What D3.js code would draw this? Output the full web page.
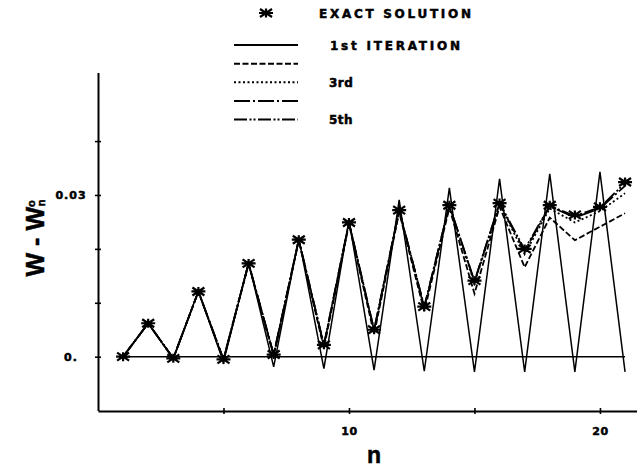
<!DOCTYPE html>
<html>
<head>
<meta charset="utf-8">
<style>
  body { margin: 0; background: #fff; }
  svg text { font-family: "DejaVu Sans", sans-serif; font-weight: bold; fill: #000; stroke: #000; stroke-width: 0.5px; }
</style>
</head>
<body>
<svg id="chart"></svg>
<script src="https://cdn.jsdelivr.net/npm/d3@7/dist/d3.min.js"></script>
<script>
// values, n = 1 .. 21
var nValues = [1, 2, 3, 4, 5, 6, 7, 8, 9, 10, 11, 12, 13, 14, 15, 16, 17, 18, 19, 20, 21];
var exact = [0, 0.0062, -0.0003, 0.0121, -0.0005, 0.0173, 0.0004, 0.0217, 0.0022, 0.0249, 0.0050,
             0.0272, 0.0093, 0.0281, 0.0141, 0.0285, 0.0200, 0.0281, 0.0263, 0.0278, 0.0324];
var iter1 = [0, 0.0062, -0.0004, 0.0122, -0.0010, 0.0175, -0.0019, 0.0220, -0.0022, 0.0254, -0.0025,
             0.0291, -0.0027, 0.0313, -0.0028, 0.0330, -0.0028, 0.0339, -0.0028, 0.0343, -0.0028];
var iter2 = [0, 0.0062, -0.0003, 0.0121, -0.0006, 0.0172, 0.0001, 0.0215, 0.0016, 0.0246, 0.0042,
             0.0268, 0.0084, 0.0276, 0.0117, 0.0278, 0.0166, 0.0258, 0.0216, 0.0241, 0.0266];
var iter3 = [0, 0.0062, -0.0003, 0.0121, -0.0005, 0.0173, 0.0003, 0.0217, 0.0020, 0.0249, 0.0048,
             0.0271, 0.0090, 0.0280, 0.0136, 0.0283, 0.0190, 0.0275, 0.0249, 0.0270, 0.0303];
var iter4 = [0, 0.0062, -0.0003, 0.0121, -0.0005, 0.0173, 0.0004, 0.0217, 0.0021, 0.0249, 0.0049,
             0.0272, 0.0092, 0.0281, 0.0139, 0.0284, 0.0196, 0.0279, 0.0258, 0.0275, 0.0317];
var iter5 = [0, 0.0062, -0.0003, 0.0121, -0.0005, 0.0173, 0.0004, 0.0217, 0.0022, 0.0249, 0.0050,
             0.0272, 0.0093, 0.0281, 0.0140, 0.0285, 0.0199, 0.0280, 0.0261, 0.0277, 0.0322];

var yTicks = [0, 0.01, 0.02, 0.03, 0.04];
var yTickLabels = ["0.", "", "", "0.03", ""];
var xTicks = [5, 10, 15, 20];
var xTickLabels = ["", "10", "", "20"];

var legendNames = ["1st ITERATION", "", "3rd", "", "5th"];
var legendDashes = ["none", "6,2.5", "2,2.5", "16,3,2,3", "13,2.5,2,2,2,2.5"];

var width = 637, height = 467;

var svg = d3.select('#chart')
    .attr('width', width)
    .attr('height', height);

var x = d3.scaleLinear().domain([0, 21.5]).range([98, 637.6]);
var y = d3.scaleLinear().domain([-0.01, 0.0527]).range([410.6, 72.6]);

// axes
var yAxis = d3.axisLeft(y)
    .tickValues(yTicks)
    .tickSize(3)
    .tickSizeOuter(0)
    .tickFormat(function(d, i) { return yTickLabels[i]; });

var gy = svg.append('g')
    .attr('transform', 'translate(98,0)')
    .call(yAxis);
gy.select('.domain').attr('stroke-width', 2);
gy.selectAll('.tick line').attr('x1', 3).attr('stroke-width', 1.6);
gy.selectAll('.tick text')
    .attr('x', -27)
    .attr('text-anchor', 'middle')
    .style('font-size', '11px')
    .style('letter-spacing', '1px');

var xAxis = d3.axisBottom(x)
    .tickValues(xTicks)
    .tickSize(3)
    .tickSizeOuter(0)
    .tickFormat(function(d, i) { return xTickLabels[i]; });

var gx = svg.append('g')
    .attr('transform', 'translate(0,411)')
    .call(xAxis);
gx.select('.domain').attr('stroke-width', 2);
gx.selectAll('.tick line').attr('y1', -3).attr('stroke-width', 1.6);
gx.selectAll('.tick text')
    .attr('y', 16)
    .style('font-size', '11px')
    .style('letter-spacing', '0.5px');

// axis titles
var ylab = svg.append('text')
    .attr('transform', 'translate(44,238) rotate(-90)')
    .attr('text-anchor', 'middle')
    .style('font-family', '"Liberation Sans", sans-serif')
    .style('font-size', '25px');
ylab.append('tspan').text('W - W');
ylab.append('tspan').text('o').style('font-size', '11px').attr('dy', -9);
ylab.append('tspan').text('n').style('font-size', '11px').attr('dx', -6).attr('dy', 10);

svg.append('text')
    .attr('x', x(11))
    .attr('y', 463)
    .attr('text-anchor', 'middle')
    .style('font-family', '"Liberation Sans", sans-serif')
    .style('font-size', '23px')
    .text('n');

// initial guess line along zero
svg.append('line')
    .attr('x1', x(nValues[0])).attr('x2', x(nValues[nValues.length - 1]))
    .attr('y1', y(0)).attr('y2', y(0))
    .attr('stroke', '#000').attr('stroke-width', 1.5);

var line = d3.line()
    .x(function(d, i) { return x(nValues[i]); })
    .y(function(d) { return y(d); });

var series = [iter1, iter2, iter3, iter4, iter5];
series.forEach(function(s, k) {
    svg.append('path')
        .datum(s)
        .attr('d', line)
        .attr('fill', 'none')
        .attr('stroke', '#000')
        .attr('stroke-width', k == 0 ? 1.5 : 1.8)
        .attr('stroke-linejoin', 'miter')
        .attr('stroke-dasharray', legendDashes[k]);
});

// asterisk marker
var star = 'M-7,0H7M-6,-4L6,4M-6,4L6,-4M0,-4.5V4.5';

svg.selectAll('.star')
    .data(exact)
    .enter()
    .append('path')
    .attr('class', 'star')
    .attr('d', star)
    .attr('transform', function(d, i) { return 'translate(' + x(nValues[i]) + ',' + y(d) + ')'; })
    .attr('stroke', '#000')
    .attr('stroke-width', 2.2)
    .attr('fill', 'none');

// legend
svg.append('path')
    .attr('d', star)
    .attr('transform', 'translate(266,13)')
    .attr('stroke', '#000')
    .attr('stroke-width', 2.2)
    .attr('fill', 'none');

svg.append('text')
    .attr('x', 319).attr('y', 17.5)
    .attr('textLength', 152)
    .attr('lengthAdjust', 'spacing')
    .style('font-size', '12px')
    .text('EXACT SOLUTION');

var legendY = d3.scalePoint().domain(d3.range(legendNames.length)).range([45, 119.5]);

legendNames.forEach(function(name, k) {
    svg.append('line')
        .attr('x1', 234).attr('x2', 298)
        .attr('y1', legendY(k)).attr('y2', legendY(k))
        .attr('stroke', '#000')
        .attr('stroke-width', 2)
        .attr('stroke-dasharray', legendDashes[k]);
    if (name) {
        var t = svg.append('text')
            .attr('x', k == 0 ? 330 : 329)
            .attr('y', legendY(k) + 4.5)
            .style('font-size', '12px')
            .text(name);
        if (k == 0) t.attr('textLength', 130).attr('lengthAdjust', 'spacing');
        else t.style('letter-spacing', '0.5px');
    }
});
</script>
</body>
</html>
